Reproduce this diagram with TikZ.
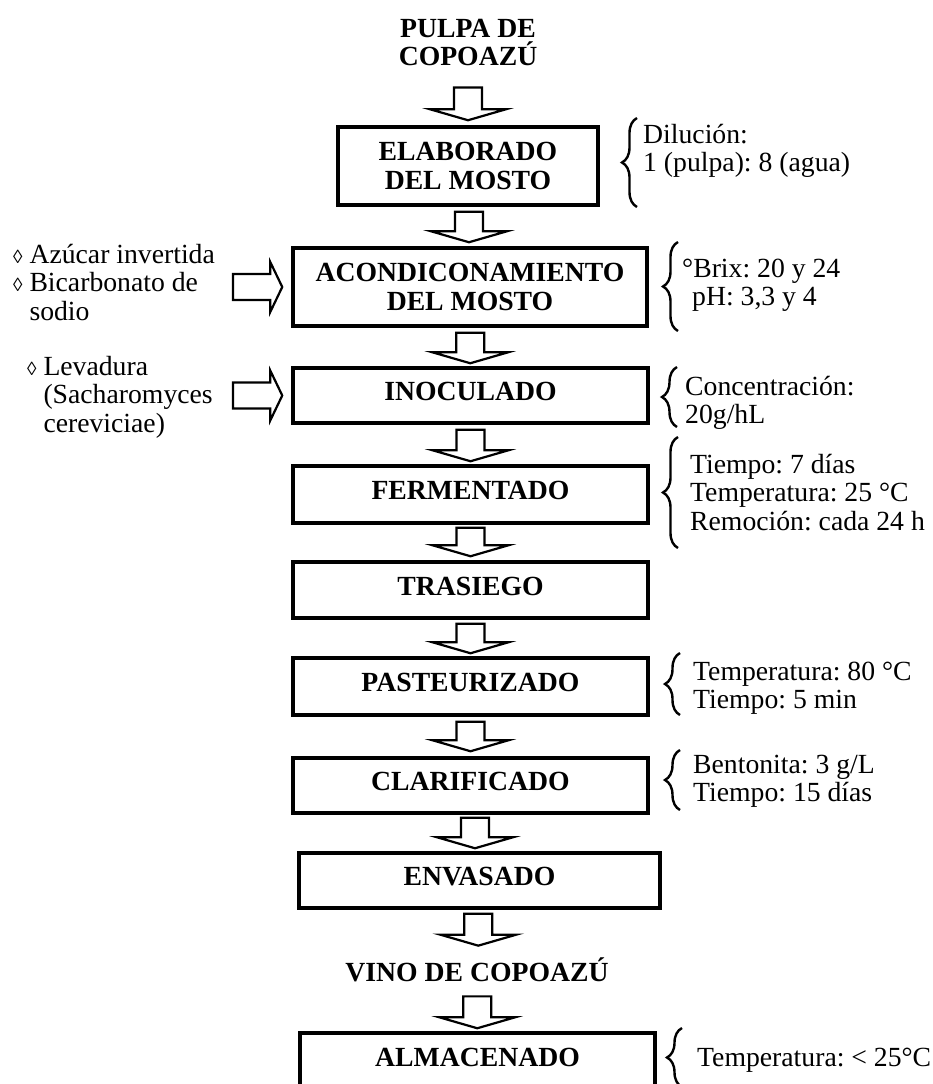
\documentclass[tikz,border=0pt]{standalone}
\usepackage{fontspec}
\setmainfont{Liberation Serif}
\usetikzlibrary{calc,decorations.pathreplacing}

% small lozenge used as a bullet
\newcommand\lz{{\fontsize{19pt}{19pt}\selectfont\char"25CA}}
% left-aligned block of lines whose baseline is the first line
\newcommand\textrows[1]{\begin{tabular}[t]{@{}l@{}}#1\end{tabular}}

\tikzset{
  stepbox/.style={draw, line width=3.5pt, align=center, inner sep=0pt,
    font=\fontsize{27.7pt}{29pt}\selectfont\bfseries,
    minimum width=355pt, minimum height=56pt},
  oneline/.style={text height=18.3pt, text depth=8pt},
  flowtitle/.style={align=center, inner sep=0pt,
    font=\fontsize{27.7pt}{28pt}\selectfont\bfseries},
  note/.style={anchor=base west, inner sep=0pt},
  blockarrow/.style={draw, line width=2.2pt, fill=white, line join=miter},
  sidebrace/.style={draw, decorate, decoration={brace, amplitude=15pt}, line width=2.4pt},
}

% outlined block arrow pointing down, from #1 to #2 (#3 gap below #1, #4 gap above #2)
\newcommand\stepdown[4]{%
  \path[blockarrow] let \p1=(#1.south), \p2=(#2.north), \p3=($(\p1)!0.5!(\p2)$) in
    (\x3-14pt,\y1-#3) -- (\x3-14pt,\y2+#4+11pt) -- (\x3-38pt,\y2+#4+11pt)
    -- (\x3,\y2+#4) -- (\x3+38pt,\y2+#4+11pt) -- (\x3+14pt,\y2+#4+11pt)
    -- (\x3+14pt,\y1-#3) -- cycle;}

% outlined block arrow pointing right, from #1 to #2 (#3 gap after #1)
\newcommand\stepright[3]{%
  \path[blockarrow] let \p1=(#1.east), \p2=(#2.west) in
    (\x1+#3,\y2+13pt) -- (\x2-21pt,\y2+13pt) -- (\x2-21pt,\y2+25pt)
    -- (\x2-9pt,\y2) -- (\x2-21pt,\y2-25pt) -- (\x2-21pt,\y2-13pt)
    -- (\x1+#3,\y2-13pt) -- cycle;}

\begin{document}
\begin{tikzpicture}[x=1pt, y=-1pt]
\fontsize{27.7pt}{28.5pt}\selectfont\frenchspacing
\useasboundingbox (0,0) rectangle (933,1084);
\clip (0,0) rectangle (933,1084);

% main process line
\node[flowtitle] (pulpa) at (468,42) {PULPA DE\\COPOAZÚ};
\node[stepbox, minimum width=260pt, minimum height=78pt] (elab) at (468,166) {ELABORADO\\DEL MOSTO};
\node[stepbox, minimum width=354pt, minimum height=78pt] (acond) at (470,287) {ACONDICONAMIENTO\\DEL MOSTO};
\node[stepbox, oneline, minimum height=55pt] (inoc) at (470.5,395.5) {INOCULADO};
\node[stepbox, oneline, minimum height=57pt] (ferm) at (470.5,494.5) {FERMENTADO};
\node[stepbox, oneline] (tras) at (470.5,590) {TRASIEGO};
\node[stepbox, oneline, minimum height=57pt] (past) at (470.5,686.5) {PASTEURIZADO};
\node[stepbox, oneline, minimum height=55pt] (clar) at (470.5,785.5) {CLARIFICADO};
\node[stepbox, oneline, minimum width=361pt, minimum height=55pt] (env) at (479.5,880.5) {ENVASADO};
\node[flowtitle, text height=18.3pt, text depth=0pt] (vino) at (477,972) {VINO DE COPOAZÚ};
\node[stepbox, oneline] (alma) at (477.5,1061) {ALMACENADO};

\stepdown{pulpa}{elab}{22pt}{5pt}
\stepdown{elab}{acond}{5pt}{4pt}
\stepdown{acond}{inoc}{5pt}{3pt}
\stepdown{inoc}{ferm}{5pt}{3pt}
\stepdown{ferm}{tras}{3pt}{4pt}
\stepdown{tras}{past}{4pt}{3pt}
\stepdown{past}{clar}{5pt}{5pt}
\stepdown{clar}{env}{3pt}{3pt}
\stepdown{env}{vino}{4pt}{17pt}
\stepdown{vino}{alma}{15pt}{3pt}

% ingredients added on the left
\node[note] (azucar) at (13,263) {\textrows{\lz\ Azúcar invertida\\\lz\ Bicarbonato de\\\phantom{\lz\ }sodio}};
\node[note] (levadura) at (27,375) {\textrows{\lz\ Levadura\\\phantom{\lz\ }(Sacharomyces\\\phantom{\lz\ }cereviciae)}};
\stepright{azucar}{acond}{18pt}
\stepright{levadura}{inoc}{20pt}

% process conditions on the right
\node[note] (dil) at (643,143) {\textrows{Dilución:\\1 (pulpa): 8 (agua)}};
\node[note] (brix) at (682,277) {\textrows{°Brix: 20 y 24\\\hspace*{10pt}pH: 3,3 y 4}};
\node[note] (conc) at (685,395) {\textrows{Concentración:\\20g/hL}};
\node[note] (fermc) at (690,473) {\textrows{Tiempo: 7 días\\Temperatura: 25 °C\\Remoción: cada 24 h}};
\node[note] (pastc) at (693,680) {\textrows{Temperatura: 80 °C\\Tiempo: 5 min}};
\node[note] (clarc) at (693,773) {\textrows{Bentonita: 3 g/L\\Tiempo: 15 días}};
\node[note] (almac) at (697,1066) {Temperatura: < 25°C};

\draw[sidebrace] (637,207) -- (637,118);
\draw[sidebrace] (678,331) -- (678,242);
\draw[sidebrace] (677,427) -- (677,367);
\draw[sidebrace] (678,548) -- (678,437);
\draw[sidebrace] (680,715) -- (680,653);
\draw[sidebrace] (680,810) -- (680,750);
\draw[sidebrace] (682,1087) -- (682,1028);
\end{tikzpicture}
\end{document}
